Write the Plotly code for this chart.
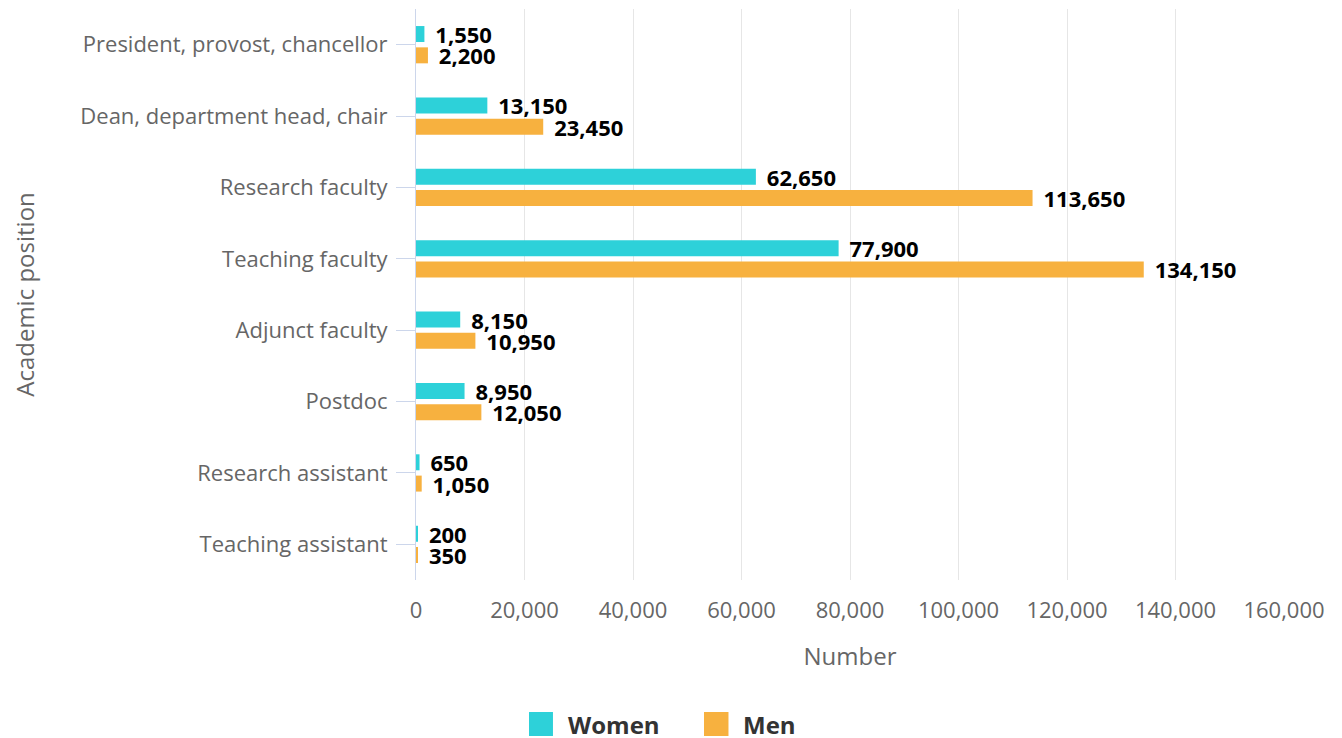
import plotly.graph_objects as go

categories = ["President, provost, chancellor", "Dean, department head, chair",
              "Research faculty", "Teaching faculty", "Adjunct faculty", "Postdoc",
              "Research assistant", "Teaching assistant"]
women = [1550, 13150, 62650, 77900, 8150, 8950, 650, 200]
men = [2200, 23450, 113650, 134150, 10950, 12050, 1050, 350]
x_ticks = [0, 20000, 40000, 60000, 80000, 100000, 120000, 140000, 160000]
series_names = ["Women", "Men"]
colors = ["#2dd1d9", "#f7b13f"]

FONT = "Open Sans"
fig = go.Figure()
for name, vals, col in zip(series_names, [women, men], colors):
    fig.add_trace(go.Bar(
        y=categories, x=vals, name=name, orientation="h",
        marker=dict(color=col, line=dict(width=0)),
        texttemplate=" \u200a%{x:,}", textposition="outside", constraintext="none",
        cliponaxis=False,
        textfont=dict(family=FONT, size=22, color="#000000", weight="bold"),
        showlegend=False,
    ))

# page body has an 8px margin, so the figure is sized to fit the window
fig.update_layout(
    width=1334, height=730,
    margin=dict(l=408, r=58, t=1, b=158),
    plot_bgcolor="white", paper_bgcolor="white",
    barmode="group", bargap=0.403, bargroupgap=0.25,
    font=dict(family=FONT, color="#666666", size=22),
    xaxis=dict(range=[0, 160000], tickvals=x_ticks, tickformat=",d",
               showgrid=True, gridcolor="#e6e6e6", gridwidth=1, zeroline=False,
               showline=False, ticks="", ticklabelstandoff=15,
               tickfont=dict(size=22, color="#666666"),
               title=dict(text="Number", font=dict(size=24, color="#666666"), standoff=25)),
    yaxis=dict(categoryorder="array", categoryarray=categories, autorange="reversed",
               showgrid=False, zeroline=False, showline=True, linecolor="#ccd6eb", linewidth=1,
               ticks="outside", ticklen=19, tickcolor="#ccd6eb", ticklabelstandoff=4,
               tickfont=dict(size=22, color="#666666"),
               title=dict(text="Academic position", font=dict(size=24, color="#666666"), standoff=49)),
)

# custom legend (bigger squares than plotly's built-in legend)
leg_x = [(0.1302, 0.1578, 0.1740), (0.3318, 0.3600, 0.3756)]
for (x0, x1, tx), name, col in zip(leg_x, series_names, colors):
    fig.add_shape(type="rect", xref="paper", yref="paper", x0=x0, x1=x1, y0=-0.2732, y1=-0.2312,
                  fillcolor=col, line=dict(width=0))
    fig.add_annotation(xref="paper", yref="paper", x=tx, y=-0.2522, xanchor="left", yanchor="middle",
                       text="<b>%s</b>" % name, showarrow=False, borderpad=0,
                       font=dict(family=FONT, size=24, color="#333333"))

fig.write_html("out.html")
